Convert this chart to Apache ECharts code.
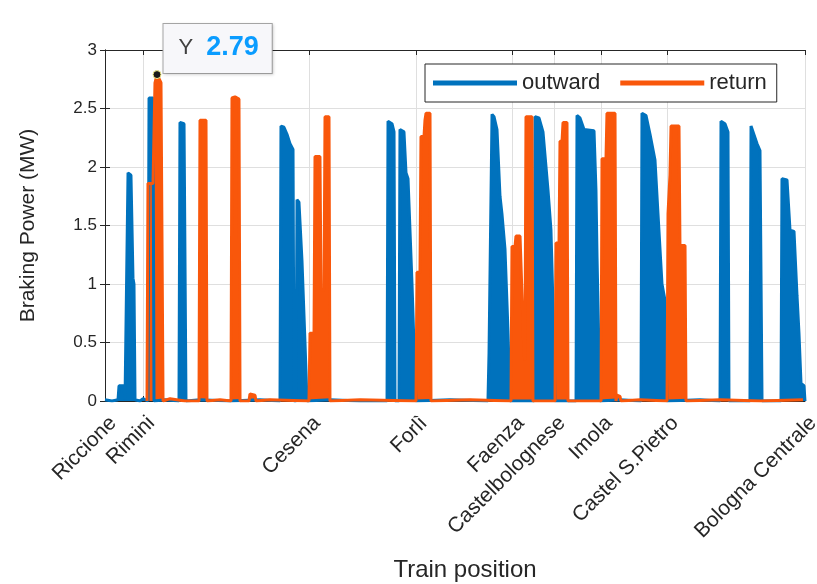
<!DOCTYPE html>
<html>
<head>
<meta charset="utf-8">
<script src="https://cdn.jsdelivr.net/npm/echarts@6/dist/echarts.min.js"></script>
<style>
html, body { margin: 0; padding: 0; background: #fff; }
#chart { width: 817px; height: 584px; }
</style>
</head>
<body>
<div id="chart"></div>
<script>
// stations along the line (position in % of route length)
var stations = ['Riccione', 'Rimini', 'Cesena', 'Forlì', 'Faenza', 'Castelbolognese', 'Imola', 'Castel S.Pietro', 'Bologna Centrale'];
var stationPos = [0, 5.47, 29.14, 44.43, 58.24, 64.14, 70.86, 80.29, 100];
var yTicks = [0, 0.5, 1, 1.5, 2, 2.5, 3];

// outward trip, braking power (MW)
var outwardPos = [0, 1.0, 1.86, 2.0, 2.71, 2.86, 3.14, 3.29, 3.71, 4.0,
  4.14, 4.29, 5.0, 5.43, 6.14, 6.29, 6.86, 7.0, 8.57, 10.57,
  10.71, 11.29, 11.57, 13.57, 17.86, 22.14, 25.0, 25.14, 25.57, 26.0,
  26.43, 26.86, 27.0, 27.29, 27.43, 27.71, 28.14, 28.57, 28.86, 32.14,
  36.43, 40.29, 40.43, 41.0, 41.29, 41.43, 42.0, 42.14, 42.71, 43.0,
  43.29, 43.86, 44.29, 44.43, 49.29, 54.71, 54.86, 55.14, 55.29, 55.57,
  56.0, 56.43, 56.71, 57.14, 57.57, 57.86, 61.29, 61.43, 62.0, 62.57,
  63.29, 63.71, 64.14, 64.29, 67.29, 67.43, 67.86, 68.43, 69.86, 70.14,
  70.29, 70.71, 73.57, 76.57, 76.71, 77.29, 77.86, 78.57, 79.0, 79.57,
  80.0, 80.29, 85.0, 87.86, 88.0, 88.57, 89.0, 89.14, 92.14, 92.29,
  92.57, 93.14, 93.57, 93.86, 96.57, 96.71, 97.43, 97.86, 98.43, 98.86,
  99.14, 99.43, 99.86, 100];
var outwardPower = [0.01, 0.0, 0.01, 0.13, 0.13, 0.01, 0.0, 1.95, 1.93, 1.05,
  1.0, 0.01, 0.0, 0.02, 0.0, 2.59, 2.59, 0.0, 0.01, 0.0,
  2.38, 2.37, 0.0, 0.01, 0.0, 0.01, 0.0, 2.35, 2.34, 2.28,
  2.2, 2.15, 0.0, 0.0, 1.72, 1.7, 1.2, 0.5, 0.0, 0.01,
  0.0, 0.0, 2.39, 2.37, 2.3, 0.0, 0.0, 2.32, 2.3, 1.95,
  1.9, 1.0, 0.2, 0.0, 0.01, 0.0, 0.41, 0.41, 2.45, 2.43,
  2.32, 1.75, 1.6, 1.3, 0.6, 0.0, 0.0, 2.43, 2.42, 2.3,
  1.8, 1.46, 0.5, 0.0, 0.0, 2.44, 2.42, 2.32, 2.31, 1.8,
  1.23, 0.0, 0.01, 0.0, 2.46, 2.44, 2.28, 2.06, 1.6, 1.0,
  0.86, 0.0, 0.01, 0.0, 2.39, 2.37, 2.3, 0.0, 0.0, 2.35,
  2.34, 2.2, 2.14, 0.0, 0.0, 1.9, 1.89, 1.46, 1.45, 0.9,
  0.58, 0.15, 0.13, 0.0];

// return trip
var returnPos = [6.0, 6.14, 6.86, 7.0, 7.14, 7.43, 8.0, 8.29, 9.29, 11.43,
  13.43, 13.57, 14.43, 14.57, 16.43, 18.0, 18.14, 18.57, 19.14, 19.29,
  20.57, 20.71, 21.43, 21.57, 23.57, 29.14, 29.29, 29.86, 30.0, 30.71,
  30.86, 31.29, 31.43, 32.0, 32.14, 36.43, 44.43, 44.57, 45.0, 45.14,
  45.57, 45.71, 45.86, 46.43, 46.57, 52.14, 58.0, 58.14, 58.57, 58.71,
  59.29, 59.86, 60.0, 60.14, 61.0, 61.14, 64.29, 64.43, 64.86, 65.0,
  65.29, 65.43, 66.0, 66.14, 70.86, 71.0, 71.57, 71.71, 72.86, 73.0,
  73.14, 73.57, 73.71, 76.43, 80.29, 80.43, 80.71, 80.86, 82.0, 82.14,
  82.86, 83.0, 87.86, 93.57, 99.71];
var returnPower = [0.0, 1.86, 1.86, 1.86, 2.72, 2.79, 2.72, 0.0, 0.02, 0.0,
  0.0, 2.4, 2.4, 0.0, 0.01, 0.0, 2.59, 2.6, 2.58, 0.0,
  0.0, 0.06, 0.05, 0.0, 0.01, 0.0, 0.58, 0.58, 2.09, 2.09,
  0.95, 0.95, 2.43, 2.43, 0.0, 0.01, 0.0, 1.1, 1.1, 2.26,
  2.26, 2.4, 2.46, 2.46, 0.0, 0.01, 0.0, 1.32, 1.32, 1.41,
  1.41, 0.4, 0.35, 2.43, 2.43, 0.0, 0.0, 1.35, 1.35, 2.22,
  2.22, 2.38, 2.38, 0.0, 0.0, 2.07, 2.07, 2.46, 2.46, 0.0,
  0.05, 0.04, 0.0, 0.01, 0.0, 1.6, 1.93, 2.35, 2.35, 1.33,
  1.33, 0.0, 0.01, 0.0, 0.01];

// data tip on the return peak at Rimini
var tipPos = 7.43;
var tipPower = 2.79;

var ink = '#262626';
var gridColor = '#dfdfdf';
var blue = '#0072BD';
var orange = '#F9570B';
var font = '"Liberation Sans", Arial, sans-serif';

function zip(xs, ys) {
    var out = [];
    for (var i = 0; i < xs.length; i++) out.push([xs[i], ys[i]]);
    return out;
}

function stationName(v) {
    for (var i = 0; i < stationPos.length; i++) {
        if (Math.abs(stationPos[i] - v) < 0.01) return stations[i];
    }
    return '';
}

var myChart = echarts.init(document.getElementById('chart'));

var option = {
    animation: false,
    grid: { left: 105, right: 12, top: 50, bottom: 183, outerBoundsMode: 'none', containLabel: false },
    legend: {
        left: 425, top: 64,
        icon: 'rect', itemWidth: 84, itemHeight: 5, itemGap: 20,
        padding: [8, 10, 8, 8],
        borderColor: ink, borderWidth: 1, backgroundColor: '#fff',
        textStyle: { color: ink, fontSize: 22, fontFamily: font },
        data: ['outward', 'return']
    },
    xAxis: [{
        type: 'value', min: 0, max: 100, position: 'bottom',
        name: 'Train position', nameLocation: 'middle', nameGap: 157,
        nameTextStyle: { color: ink, fontSize: 24, fontFamily: font, padding: [0, 0, 0, 20] },
        axisLine: { show: true, onZero: false, lineStyle: { color: ink } },
        axisTick: { show: true, inside: true, length: 5, customValues: stationPos, lineStyle: { color: ink } },
        axisLabel: {
            customValues: stationPos, rotate: 45, formatter: stationName,
            color: ink, fontSize: 21, fontFamily: font, margin: 8,
            align: 'right', verticalAlign: 'top', padding: [3, 2, 0, 0]
        },
        splitLine: { show: true, lineStyle: { color: gridColor } }
    }, {
        type: 'value', min: 0, max: 100, position: 'top',
        axisLine: { show: true, onZero: false, lineStyle: { color: ink } },
        axisTick: { show: true, inside: true, length: 5, customValues: stationPos, lineStyle: { color: ink } },
        axisLabel: { show: false },
        splitLine: { show: false }
    }],
    yAxis: [{
        type: 'value', min: yTicks[0], max: yTicks[yTicks.length - 1], interval: 0.5, position: 'left',
        name: 'Braking Power (MW)', nameLocation: 'middle', nameGap: 66,
        nameTextStyle: { color: ink, fontSize: 21, fontFamily: font },
        axisLine: { show: true, lineStyle: { color: ink } },
        axisTick: { show: true, inside: true, length: 5, lineStyle: { color: ink } },
        axisLabel: { color: ink, fontSize: 17, fontFamily: font, margin: 8 },
        splitLine: { show: true, lineStyle: { color: gridColor } }
    }, {
        type: 'value', min: yTicks[0], max: yTicks[yTicks.length - 1], interval: 0.5, position: 'right',
        axisLine: { show: true, lineStyle: { color: ink } },
        axisTick: { show: true, inside: true, length: 5, lineStyle: { color: ink } },
        axisLabel: { show: false },
        splitLine: { show: false }
    }],
    series: [{
        name: 'outward', type: 'line',
        data: zip(outwardPos, outwardPower),
        showSymbol: false, symbol: 'none',
        lineStyle: { width: 3, color: blue },
        itemStyle: { color: blue },
        areaStyle: { color: blue, opacity: 1 }
    }, {
        name: 'return', type: 'line',
        data: zip(returnPos, returnPower),
        showSymbol: false, symbol: 'none',
        lineStyle: { width: 3, color: orange },
        itemStyle: { color: orange },
        areaStyle: { color: orange, opacity: 1 },
        markPoint: {
            symbol: 'circle', symbolSize: 8,
            itemStyle: { color: '#1a1a1a', borderColor: '#f3ee8c', borderWidth: 1 },
            label: {
                show: true, position: [11, -46], align: 'left', verticalAlign: 'top',
                formatter: function (p) { return '{k|Y}{v|' + p.value.toFixed(2) + '}'; },
                backgroundColor: '#f7f7fa', borderColor: '#a6a6a6', borderWidth: 1,
                padding: [10, 13, 12, 15],
                shadowColor: 'rgba(0,0,0,0.15)', shadowBlur: 3, shadowOffsetX: 1, shadowOffsetY: 1,
                rich: {
                    k: { fontSize: 22, color: '#404040', fontFamily: font },
                    v: { fontSize: 27, fontWeight: 'bold', color: '#0a9cff', fontFamily: font, padding: [0, 0, 0, 13] }
                }
            },
            data: [{ coord: [tipPos, tipPower], value: tipPower }]
        }
    }]
};

myChart.setOption(option);
</script>
</body>
</html>
